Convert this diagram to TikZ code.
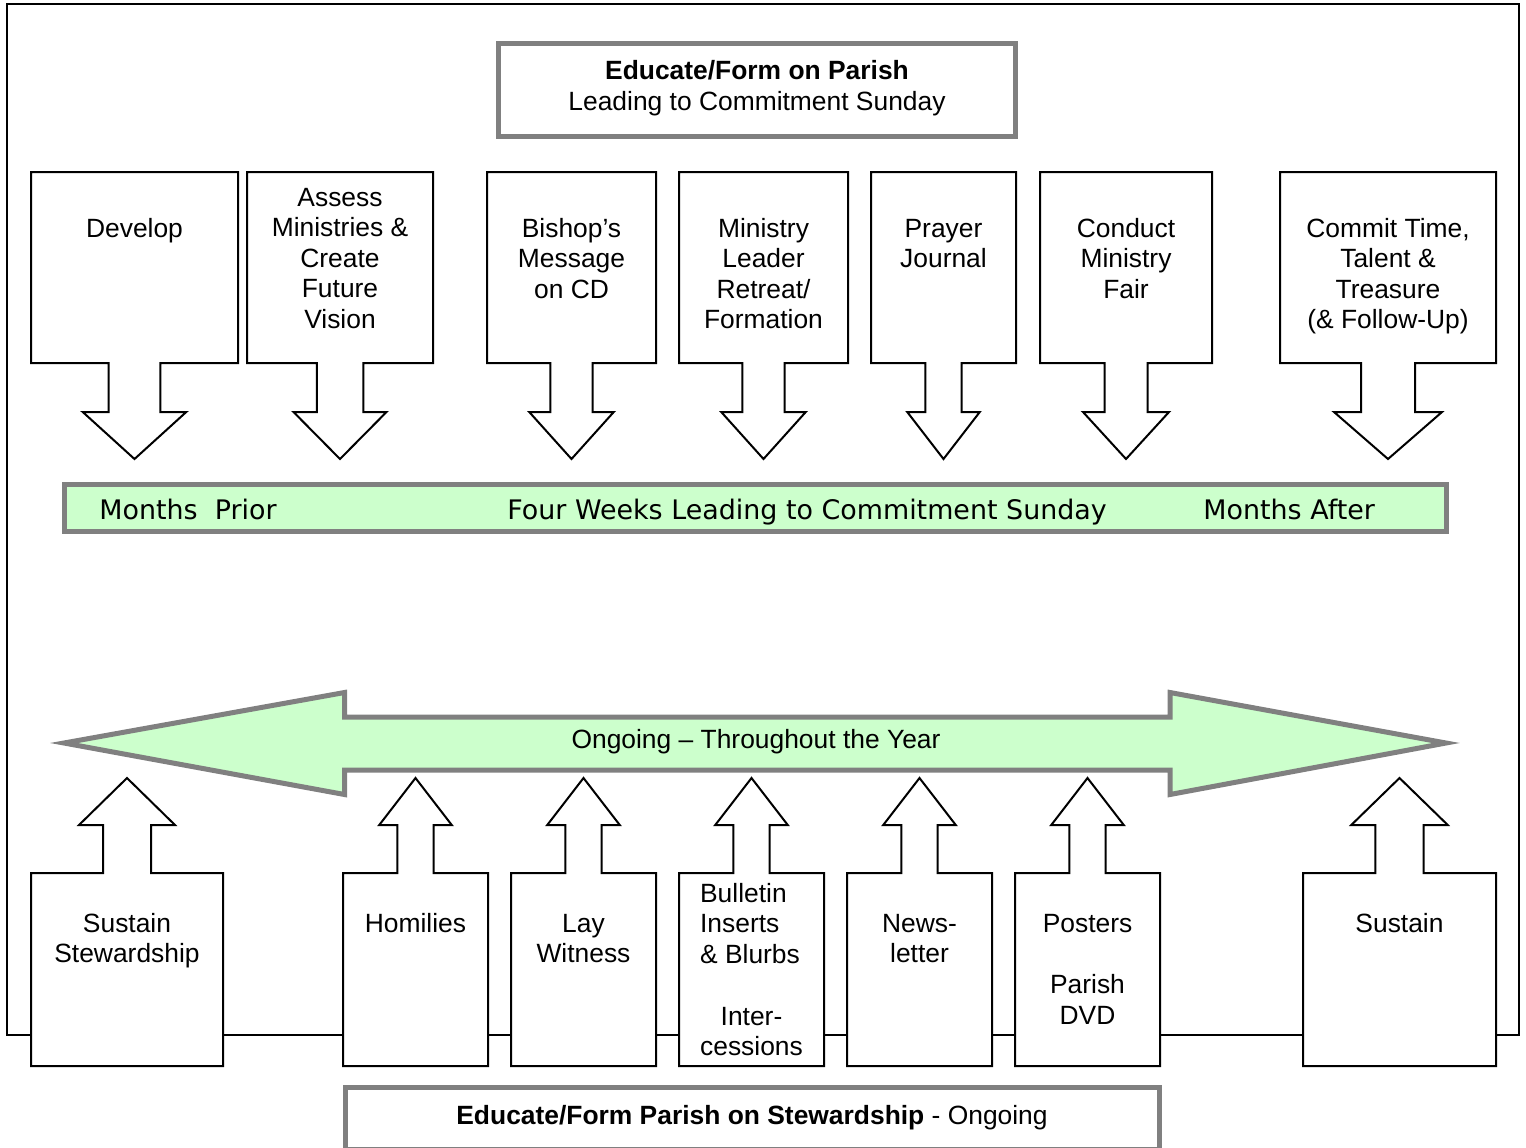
\documentclass[tikz,border=0pt]{standalone}
\usepackage{fontspec}
\setmainfont{Liberation Sans}
\newfontfamily\verd{DejaVu Sans}
\definecolor{bordergray}{HTML}{808080}
\definecolor{lightgreen}{HTML}{CCFFCC}
\tikzset{
  frameline/.style={draw=black, line width=1pt},
  callout/.style={draw=black, line width=1pt, fill=white, line join=miter},
  graybox/.style={draw=bordergray, line width=2.5pt, fill=white},
  greenshape/.style={draw=bordergray, line width=2.5pt, fill=lightgreen, line join=miter, miter limit=10},
  boxtext/.style={font=\fontsize{13.2}{15.25}\selectfont, align=center, anchor=base, inner sep=0pt},
  bartext/.style={font=\verd\fontsize{13.45}{15.25}\selectfont, anchor=base west, inner sep=0pt},
}
\newcommand\downcallout[2]{%
  \draw[callout] (#1,172) -- (#2,172) -- (#2,363)
    -- ({(#1+#2)/2+(#2-#1)/8},363) -- ({(#1+#2)/2+(#2-#1)/8},412)
    -- ({(#1+#2)/2+(#2-#1)/4},412) -- ({(#1+#2)/2},459)
    -- ({(#1+#2)/2-(#2-#1)/4},412) -- ({(#1+#2)/2-(#2-#1)/8},412)
    -- ({(#1+#2)/2-(#2-#1)/8},363) -- (#1,363) -- cycle;}
\newcommand\upcallout[2]{%
  \draw[callout] (#1,1066) -- (#2,1066) -- (#2,873)
    -- ({(#1+#2)/2+(#2-#1)/8},873) -- ({(#1+#2)/2+(#2-#1)/8},825)
    -- ({(#1+#2)/2+(#2-#1)/4},825) -- ({(#1+#2)/2},778)
    -- ({(#1+#2)/2-(#2-#1)/4},825) -- ({(#1+#2)/2-(#2-#1)/8},825)
    -- ({(#1+#2)/2-(#2-#1)/8},873) -- (#1,873) -- cycle;}
\begin{document}
\begin{tikzpicture}[x=0.5pt,y=-0.5pt]
\useasboundingbox (0,0) rectangle (1526,1147);
% outer frame
\draw[frameline] (7,4) rectangle (1519,1035);
% top title
\draw[graybox] (498.5,43.5) rectangle (1015.5,136.5);
\node[boxtext, font=\fontsize{13.2}{15.5}\selectfont] (toptitle) at (757,110) {\textbf{Educate/Form on Parish}\\Leading to Commitment Sunday};
% top callouts
\downcallout{31}{238}
\downcallout{247}{433}
\downcallout{487}{656}
\downcallout{679}{848}
\downcallout{871}{1016}
\downcallout{1040}{1212}
\downcallout{1280}{1496}
\node[boxtext] (develop) at (134.5,237) {Develop};
\node[boxtext] (assess) at (340,328) {Assess\\Ministries \&\\Create\\Future\\Vision};
\node[boxtext] (bishop) at (571.5,298) {Bishop’s\\Message\\on CD};
\node[boxtext] (retreat) at (763.5,328.5) {Ministry\\Leader\\Retreat/\\Formation};
\node[boxtext] (prayer) at (943.5,267.5) {Prayer\\Journal};
\node[boxtext] (fair) at (1126,298) {Conduct\\Ministry\\Fair};
\node[boxtext] (commit) at (1388,328.5) {Commit Time,\\Talent \&\\Treasure\\(\& Follow-Up)};
% green timeline bar
\draw[greenshape] (64.5,484.5) rectangle (1446.5,531.5);
\node[bartext] (prior) at (99,519) {Months\ \ Prior};
\node[bartext] (fourweeks) at (507,519) {Four Weeks Leading to Commitment Sunday};
\node[bartext] (after) at (1203,519) {Months After};
% big double arrow
\draw[greenshape] (64,743) -- (344.5,692.5) -- (344.5,717) -- (1170,717) -- (1170,692.5)
  -- (1446,743) -- (1170,794.5) -- (1170,770) -- (344.5,770) -- (344.5,794.5) -- cycle;
\node[boxtext] (ongoing) at (756,748) {Ongoing – Throughout the Year};
% bottom callouts
\upcallout{31}{223}
\upcallout{343}{488}
\upcallout{511}{656}
\upcallout{679}{824}
\upcallout{847}{992}
\upcallout{1015}{1160}
\upcallout{1303}{1496}
\node[boxtext] (sustainst) at (127,962.5) {Sustain\\Stewardship};
\node[boxtext] (homilies) at (415.5,932) {Homilies};
\node[boxtext] (lay) at (583.5,962.5) {Lay\\Witness};
\node[boxtext, align=left] (bulletin) at (750,963) {Bulletin\\Inserts\\\& Blurbs};
\node[boxtext] (inter) at (751.5,1055.5) {Inter-\\cessions};
\node[boxtext] (news) at (919.5,962.5) {News-\\letter};
\node[boxtext] (posters) at (1087.5,1024) {Posters\\[15.25pt]Parish\\DVD};
\node[boxtext] (sustain) at (1399.5,932) {Sustain};
% bottom title
\draw[graybox] (345.5,1087.5) rectangle (1159.5,1149);
\node[boxtext] (bottomtitle) at (752,1124) {\textbf{Educate/Form Parish on Stewardship} - Ongoing};
\end{tikzpicture}
\end{document}
